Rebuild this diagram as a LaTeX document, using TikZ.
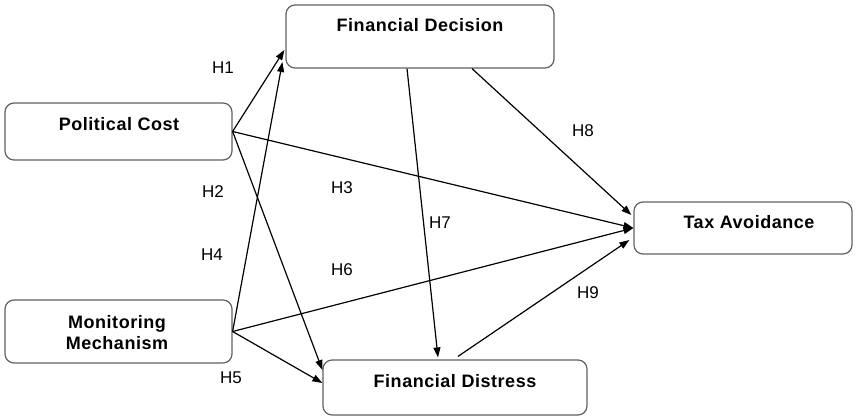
\documentclass[tikz,border=0pt]{standalone}
\usepackage{fontspec}
\setmainfont{Liberation Sans}
\usetikzlibrary{arrows.meta,calc}
\tikzset{
  boxnode/.style={draw=black!62, line width=1.2pt, rounded corners=9pt, fill=white, inner sep=0pt},
  boxtext/.style={font=\fontsize{18}{21.5}\selectfont\bfseries\addfontfeatures{LetterSpace=3}, align=center, inner sep=0pt},
  hyp/.style={font=\fontsize{17}{20}\selectfont, inner sep=0pt},
  link/.style={line width=1.2pt, -{Triangle[length=10pt,width=7pt]}}
}
\begin{document}
\begin{tikzpicture}[x=1pt,y=-1pt]
\useasboundingbox (0,0) rectangle (856,417);
% boxes
\node[boxnode, minimum width=268pt, minimum height=63pt] (fd) at (420,36.5) {};
\node[boxnode, minimum width=227pt, minimum height=57pt] (pc) at (118.5,131.5) {};
\node[boxnode, minimum width=218pt, minimum height=52pt] (ta) at (743,228) {};
\node[boxnode, minimum width=227pt, minimum height=63pt] (mm) at (118.5,331.5) {};
\node[boxnode, minimum width=264pt, minimum height=55pt] (fdi) at (455,387.5) {};
% box texts
\node[boxtext] (fdt) at (420,25) {Financial Decision};
\node[boxtext] (pct) at (119,124) {Political Cost};
\node[boxtext] (tat) at (749,222) {Tax Avoidance};
\node[boxtext] (mmt) at (117,332.5) {Monitoring\\Mechanism};
\node[boxtext] (fdit) at (455,381) {Financial Distress};
% connectors
\draw[link] (pc.east) -- ($(fd.west)+(-1,13.5)$);
\draw[link] (pc.east) -- ($(fdi.west)+(0,-17.5)$);
\draw[link] (pc.east) -- (ta.west);
\draw[link] (mm.east) -- ($(fd.west)+(-3,25.5)$);
\draw[link] (mm.east) -- ($(fdi.west)+(0,-4.5)$);
\draw[link] (mm.east) -- (ta.west);
\draw[link] ($(fd.south)+(-13,0)$) -- ($(fdi.north)+(-17,-2)$);
\draw[link] ($(fd.south)+(52,0)$) -- ($(ta.west)+(-2,-13)$);
\draw[link] ($(fdi.north)+(3,-3)$) -- ($(ta.west)+(-4,12)$);
% hypothesis labels
\node[hyp] (h1) at (223,68) {H1};
\node[hyp] (h2) at (213,192) {H2};
\node[hyp] (h3) at (342,188) {H3};
\node[hyp] (h4) at (212,255) {H4};
\node[hyp] (h5) at (231,378) {H5};
\node[hyp] (h6) at (342,270) {H6};
\node[hyp] (h7) at (440,223) {H7};
\node[hyp] (h8) at (583,131) {H8};
\node[hyp] (h9) at (588,293) {H9};
\end{tikzpicture}
\end{document}
